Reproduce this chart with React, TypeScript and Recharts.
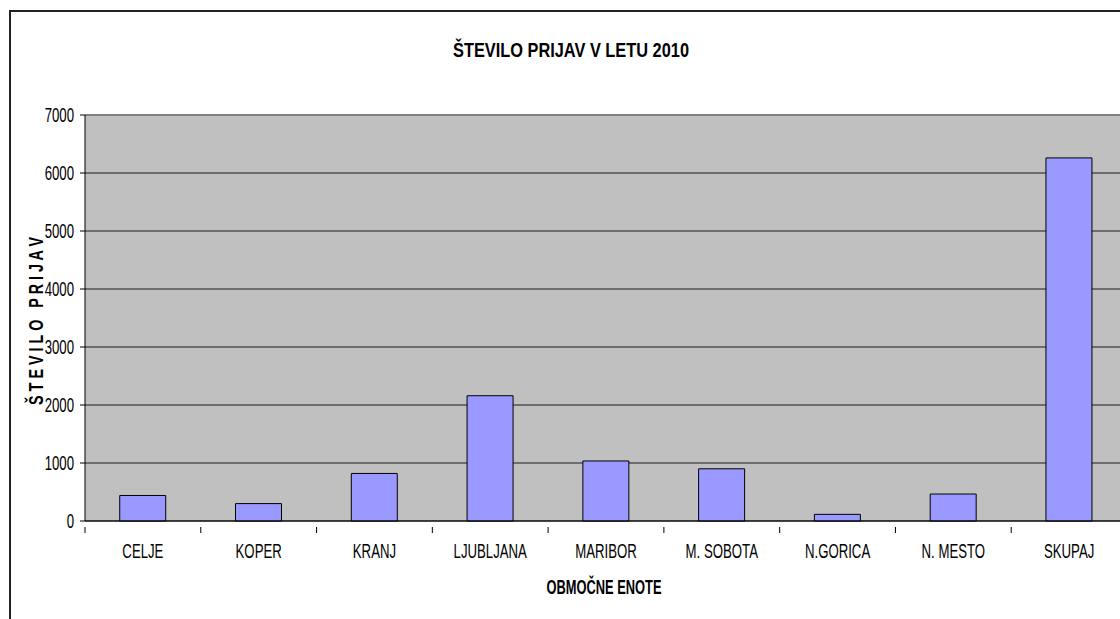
import { Bar, BarChart, CartesianGrid, Label, ReferenceLine, XAxis, YAxis } from "recharts";

const categories = ["CELJE", "KOPER", "KRANJ", "LJUBLJANA", "MARIBOR", "M. SOBOTA", "N.GORICA", "N. MESTO", "SKUPAJ"];
const prijave = [440, 300, 820, 2160, 1035, 900, 115, 465, 6260];
const yTicks = [0, 1000, 2000, 3000, 4000, 5000, 6000, 7000];

const title = "ŠTEVILO PRIJAV V LETU 2010";
const xTitle = "OBMOČNE ENOTE";
const yTitle = "Š T E V I L O   P R I J A V";

const data = categories.map((name, i) => ({ name, value: prijave[i] }));

const FONT = '"Liberation Sans", Arial, sans-serif';
const SQUEEZE = 0.66;

const YTick = ({ x, y, payload }: any) => (
  <text
    transform={`translate(${x},${y}) scale(${SQUEEZE},1)`}
    textAnchor="end"
    dy="0.36em"
    fontSize={20}
    fontFamily={FONT}
    fill="#000"
  >
    {payload.value}
  </text>
);

const XTick = ({ x, y, payload, index }: any) => {
  const half = payload.offset || 57.9;
  return (
    <g>
      <line x1={x - half} x2={x - half} y1={y} y2={y + 6} stroke="#000" />
      {index === categories.length - 1 && <line x1={x + half} x2={x + half} y1={y} y2={y + 6} stroke="#000" />}
      <text
        transform={`translate(${x},${y + 31}) scale(${SQUEEZE},1)`}
        textAnchor="middle"
        fontSize={20}
        fontFamily={FONT}
        fill="#000"
      >
        {payload.value}
      </text>
    </g>
  );
};

const XTitle = ({ viewBox }: any) => (
  <text
    x={viewBox.x + viewBox.width / 2 - 2}
    y={594}
    textAnchor="middle"
    fontSize={20}
    fontWeight="bold"
    fontFamily={FONT}
    textLength={115}
    lengthAdjust="spacingAndGlyphs"
    fill="#000"
  >
    {xTitle}
  </text>
);

const YTitle = () => (
  <text
    transform="translate(43,321) rotate(-90)"
    textAnchor="middle"
    fontSize={20}
    fontWeight="bold"
    fontFamily={FONT}
    textLength={168}
    lengthAdjust="spacingAndGlyphs"
    xmlSpace="preserve"
    style={{ whiteSpace: "pre" }}
    fill="#000"
  >
    {yTitle}
  </text>
);

export default function App() {
  return (
    <div style={{ position: "absolute", left: 0, top: 0, width: 1120, height: 619, overflow: "hidden", background: "#fff" }}>
      <div style={{ position: "absolute", left: 9, top: 10, width: 1200, height: 700, border: "2px solid #222" }} />
      <svg width={1120} height={70} style={{ position: "absolute", left: 0, top: 0 }}>
        <text
          x={571}
          y={57}
          textAnchor="middle"
          fontSize={20}
          fontWeight="bold"
          fontFamily={FONT}
          textLength={236}
          lengthAdjust="spacingAndGlyphs"
          fill="#000"
        >
          {title}
        </text>
      </svg>
      <div style={{ position: "absolute", left: 0, top: 0 }}>
        <BarChart width={1140} height={619} data={data} margin={{ top: 115, right: 13, bottom: 0, left: 0 }} barCategoryGap="30%">
          <CartesianGrid vertical={false} fill="#C0C0C0" stroke="#1a1a1a" />
          <XAxis
            dataKey="name"
            height={98}
            interval={0}
            tickLine={false}
            tickMargin={0}
            axisLine={{ stroke: "#000" }}
            tick={<XTick />}
          >
            <Label content={<XTitle />} />
          </XAxis>
          <YAxis
            width={85}
            domain={[0, 7000]}
            ticks={yTicks}
            tickSize={5}
            tickMargin={6}
            axisLine={{ stroke: "#000" }}
            tickLine={{ stroke: "#000" }}
            tick={<YTick />}
          >
            <Label content={<YTitle />} />
          </YAxis>
          <ReferenceLine y={7000} stroke="#808080" strokeWidth={2} />
          <Bar dataKey="value" fill="#9999FF" stroke="#000" strokeWidth={1} isAnimationActive={false} />
        </BarChart>
      </div>
    </div>
  );
}
